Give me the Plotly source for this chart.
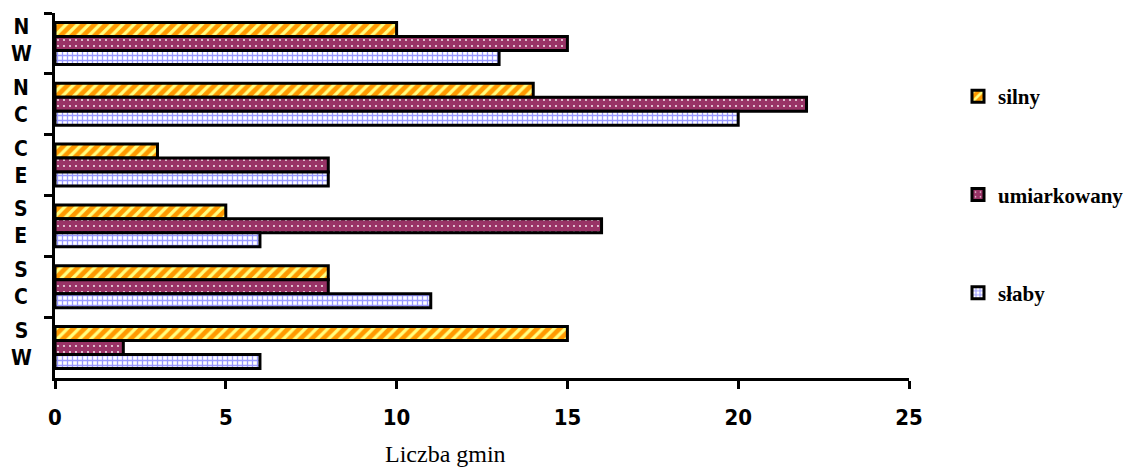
import plotly.graph_objects as go

categories = ["NW", "NC", "CE", "SE", "SC", "SW"]
tick_labels = ["N<br>W", "N<br>C", "C<br>E", "S<br>E", "S<br>C", "S<br>W"]
silny = [10, 14, 3, 5, 8, 15]
umiarkowany = [15, 22, 8, 16, 8, 2]
slaby = [13, 20, 8, 6, 11, 6]
x_ticks = [0, 5, 10, 15, 20, 25]

series = [
    ("silny", silny, dict(shape="/", bgcolor="#FF9900", fgcolor="#FFFF80", size=8, solidity=0.4)),
    ("umiarkowany", umiarkowany, dict(shape=".", bgcolor="#993366", fgcolor="#FFFFFF", size=6, solidity=0.07)),
    ("słaby", slaby, dict(shape="+", bgcolor="#FFFFFF", fgcolor="#9999FF", size=5, solidity=0.45)),
]

W, H = 1139, 469
L, R, T, B = 55, 909, 13, 378  # plot area in pixels

fig = go.Figure()
for i, (name, vals, pat) in enumerate(series):
    fig.add_trace(go.Bar(
        y=categories, x=vals, orientation="h", name=name,
        legendgroup=f"g{i}",
        marker=dict(color=pat["bgcolor"], pattern=dict(fillmode="replace", **pat),
                    line=dict(color="black", width=3)),
    ))

tick_font = dict(family="DejaVu Sans Condensed, Liberation Sans Narrow, Liberation Sans, Arial",
                 size=22, color="black", weight="bold")

annotations = [dict(
    text="Liczba gmin", xref="paper", yref="paper",
    x=(445 - L) / (R - L), y=(B - 454) / (B - T), xanchor="center", yanchor="middle",
    showarrow=False,
    font=dict(family="Liberation Serif, Times New Roman, serif", size=24, color="black"),
)]
for cat, lab in zip(categories, tick_labels):
    annotations.append(dict(
        text=lab, xref="paper", yref="y", x=(21 - L) / (R - L), y=cat,
        xanchor="center", yanchor="middle", align="center", yshift=3,
        showarrow=False, font=dict(tick_font, size=21),
    ))

fig.update_layout(
    template="none",
    width=W, height=H,
    margin=dict(l=L, r=W - R, t=T, b=H - B, pad=0, autoexpand=False),
    paper_bgcolor="white", plot_bgcolor="white",
    barmode="group", bargap=0.31, bargroupgap=0,
    showlegend=True,
    legend=dict(
        x=(958 - L) / (R - L), y=(B - 76) / (B - T), xanchor="left", yanchor="top",
        tracegroupgap=68, itemwidth=30, borderwidth=0,
        font=dict(family="Liberation Serif, Times New Roman, serif", size=21, color="black", weight="bold"),
        bgcolor="rgba(0,0,0,0)",
    ),
    xaxis=dict(
        range=[0, 25], tickvals=x_ticks, ticktext=[str(v) for v in x_ticks],
        showgrid=False, zeroline=False, showline=True, linecolor="black", linewidth=2.5,
        ticks="outside", ticklen=8, tickwidth=2.5, tickcolor="black",
        tickfont=tick_font, ticklabelstandoff=10, automargin=False,
    ),
    yaxis=dict(
        type="category", categoryorder="array", categoryarray=categories,
        autorange="reversed", showticklabels=False,
        showgrid=False, zeroline=False, showline=True, linecolor="black", linewidth=2.5,
        ticks="outside", ticklen=8, tickwidth=2.5, tickcolor="black", tickson="boundaries",
        automargin=False,
    ),
    annotations=annotations,
)

fig.write_html("out.html", config={"displayModeBar": False},
               post_script="document.body.style.margin='0';")
